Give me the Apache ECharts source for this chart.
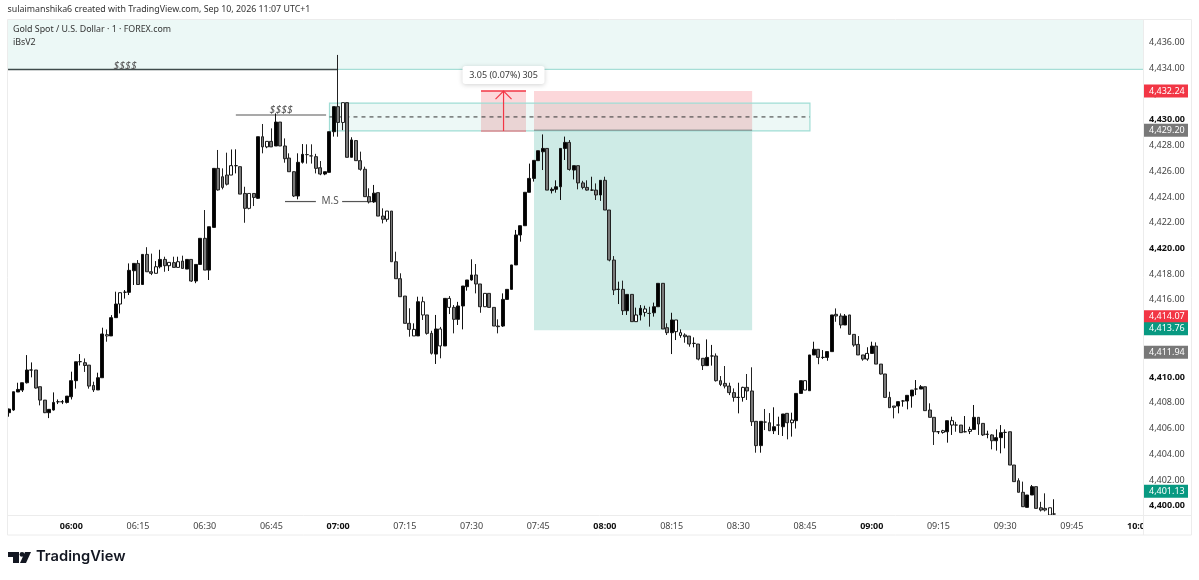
<!DOCTYPE html>
<html>
<head>
<meta charset="utf-8">
<title>Gold Spot / U.S. Dollar</title>
<script src="https://cdn.jsdelivr.net/npm/echarts@6/dist/echarts.min.js"></script>
<style>
  html, body { margin: 0; padding: 0; background: #fff; }
  #chart { width: 1199px; height: 580px; }
</style>
</head>
<body>
<div id="chart"></div>
<script>
// one candle per minute, counted from 06:00 (first candle is 05:46)
const firstMinute = -14

const opens = [
  4407.23,4407.44,4408.84,4408.99,4409.56,4410.55,4410.55,4409.25,4408.21,4407.23,
  4407.44,4408.08,4408.08,4408.03,4408.47,4409.72,4411.20,4411.12,4410.93,4409.35,
  4409.00,4409.95,4413.30,4413.20,4414.62,4415.68,4416.60,4416.59,4418.27,4418.84,
  4417.20,4419.54,4418.19,4418.07,4418.58,4419.15,4418.66,4418.90,4418.53,4419.02,
  4418.40,4419.15,4417.47,4418.76,4420.79,4418.32,4421.64,4426.23,4425.58,4425.71,
  4425.71,4426.44,4426.36,4424.28,4424.28,4424.28,4423.90,4428.69,4427.90,4428.33,
  4427.97,4429.83,4427.97,4427.03,4425.97,4424.08,4426.70,4427.30,4427.20,4427.14,
  4426.28,4425.79,4425.92,4429.08,4431.03,4431.34,4431.34,4427.09,4428.39,4426.83,
  4426.16,4424.03,4423.62,4424.34,4422.52,4422.27,4422.91,4418.97,4417.65,4416.30,
  4414.18,4413.20,4413.20,4415.86,4414.83,4413.40,4411.79,4413.74,4412.42,4416.12,
  4415.42,4414.49,4415.53,4417.03,4417.55,4417.94,4417.24,4415.47,4416.51,4415.42,
  4413.97,4413.97,4416.04,4416.82,4418.72,4421.05,4421.77,4424.37,4425.45,4426.83,
  4427.52,4427.78,4424.50,4424.60,4424.80,4427.78,4428.25,4426.10,4426.44,4425.10,
  4424.75,4424.54,4424.54,4424.16,4425.30,4422.99,4419.10,4416.82,4416.82,4415.16,
  4416.43,4414.31,4414.83,4415.03,4414.95,4415.00,4415.47,4417.29,4413.84,4413.45,
  4413.53,4413.24,4413.27,4413.19,4412.62,4412.57,4411.46,4410.89,4411.64,4411.64,
  4409.72,4409.51,4409.30,4408.79,4408.42,4408.42,4409.20,4408.92,4406.56,4404.67,
  4406.50,4406.45,4405.83,4406.27,4406.14,4407.18,4406.45,4406.61,4408.73,4408.99,
  4408.94,4411.72,4412.16,4411.53,4411.53,4411.98,4414.88,4414.75,4414.05,4414.83,
  4413.32,4412.54,4411.72,4411.40,4411.84,4412.41,4411.01,4410.24,4408.42,4407.75,
  4407.75,4408.14,4408.14,4408.53,4409.07,4409.07,4409.25,4407.44,4406.87,4405.75,
  4405.70,4405.75,4406.27,4406.27,4406.27,4405.75,4405.78,4405.93,4406.87,4406.40,
  4405.55,4405.50,4405.05,4405.29,4405.70,4405.75,4403.16,4401.94,4401.04,4399.87,
  4400.83,4401.48,4399.84,4399.79,4399.84,4399.35
]
const closes = [
  4407.51,4408.86,4409.04,4409.56,4410.55,4410.55,4409.15,4408.21,4407.23,4407.49,
  4408.03,4408.08,4408.08,4408.52,4409.72,4411.19,4411.20,4410.90,4409.30,4409.00,
  4409.95,4413.35,4413.20,4414.62,4415.68,4416.56,4416.60,4418.30,4418.84,4417.20,
  4419.54,4418.19,4418.07,4418.58,4419.15,4418.66,4418.92,4418.53,4418.97,4418.45,
  4419.15,4417.47,4418.76,4420.79,4418.32,4421.69,4426.23,4424.55,4424.75,4425.00,
  4426.44,4426.44,4424.23,4423.12,4423.12,4423.97,4428.69,4427.90,4428.33,4427.90,
  4429.83,4427.97,4426.98,4425.97,4424.08,4426.70,4427.32,4427.30,4427.20,4426.23,
  4425.79,4425.97,4429.08,4431.03,4429.80,4429.80,4427.09,4428.44,4426.83,4426.16,
  4424.03,4423.62,4424.30,4422.52,4422.27,4422.91,4418.97,4417.65,4416.25,4414.18,
  4413.71,4413.71,4415.86,4414.83,4413.40,4411.85,4413.74,4412.42,4416.12,4415.42,
  4414.49,4415.53,4417.08,4417.55,4417.94,4417.24,4415.47,4416.51,4415.42,4413.97,
  4413.92,4416.04,4416.82,4418.72,4421.05,4421.77,4424.37,4425.45,4426.85,4427.60,
  4427.78,4424.54,4424.60,4424.80,4427.78,4428.25,4426.15,4426.44,4425.10,4424.75,
  4424.54,4424.54,4424.16,4425.30,4422.99,4419.10,4416.77,4416.82,4415.16,4416.43,
  4414.31,4414.83,4415.35,4415.30,4414.95,4415.47,4417.29,4413.74,4413.45,4414.44,
  4414.44,4413.45,4413.14,4412.57,4412.62,4411.40,4410.89,4411.53,4411.64,4409.72,
  4409.43,4409.30,4408.79,4408.42,4408.42,4409.20,4408.92,4406.53,4404.67,4406.56,
  4406.50,4405.83,4406.14,4406.27,4407.13,4406.45,4406.66,4408.73,4409.72,4409.72,
  4411.72,4412.16,4411.53,4411.53,4411.98,4414.83,4414.75,4414.05,4414.75,4413.32,
  4412.49,4411.72,4411.40,4411.84,4412.41,4411.01,4410.24,4408.42,4407.62,4407.65,
  4408.09,4408.14,4408.58,4408.99,4409.07,4409.25,4407.39,4406.87,4405.75,4405.75,
  4405.83,4406.61,4406.61,4406.27,4405.68,4405.75,4405.93,4406.87,4406.35,4405.50,
  4405.55,4405.05,4405.29,4405.68,4405.70,4403.16,4401.87,4401.04,4399.92,4400.83,
  4401.48,4399.79,4399.66,4399.66,4399.27,4399.35
]
const lows = [
  4406.92,4407.38,4408.84,4408.84,4409.50,4409.98,4409.10,4407.80,4407.20,4406.81,
  4407.40,4407.90,4407.90,4407.95,4408.26,4409.10,4410.90,4410.40,4409.10,4408.84,
  4409.00,4409.95,4412.75,4413.20,4414.62,4414.95,4416.10,4416.38,4417.16,4417.20,
  4417.20,4418.19,4417.93,4418.07,4418.45,4418.19,4418.25,4418.53,4418.53,4418.45,
  4418.40,4417.40,4417.30,4418.76,4418.32,4417.55,4421.64,4424.50,4424.60,4424.90,
  4425.71,4425.84,4424.23,4422.00,4423.04,4423.30,4423.85,4427.40,4427.80,4427.90,
  4427.97,4427.97,4426.67,4425.97,4424.00,4423.82,4426.60,4426.60,4426.60,4425.84,
  4425.70,4425.70,4425.92,4428.70,4428.69,4429.20,4427.09,4427.09,4426.83,4426.05,
  4424.03,4423.50,4423.55,4422.52,4421.95,4422.08,4418.97,4417.65,4416.25,4414.18,
  4413.14,4413.20,4413.20,4414.44,4413.30,4411.75,4411.02,4411.46,4412.42,4414.90,
  4413.40,4414.05,4413.71,4416.72,4417.50,4416.51,4415.00,4415.47,4415.42,4413.97,
  4413.40,4413.90,4416.04,4416.82,4418.72,4420.53,4421.77,4424.37,4425.20,4426.83,
  4426.10,4424.54,4424.28,4424.34,4423.77,4426.88,4426.05,4425.37,4424.60,4424.60,
  4424.50,4424.48,4423.77,4423.70,4422.99,4419.00,4416.38,4415.68,4414.83,4414.83,
  4414.31,4414.31,4414.40,4414.70,4413.92,4414.70,4415.47,4413.74,4413.27,4411.79,
  4412.88,4413.06,4412.67,4412.36,4412.31,4411.30,4410.55,4410.89,4410.89,4409.65,
  4409.30,4409.12,4408.60,4408.09,4407.18,4408.09,4408.22,4406.20,4404.12,4404.12,
  4405.88,4405.80,4405.57,4405.50,4405.42,4405.16,4405.37,4406.00,4408.73,4408.99,
  4408.94,4411.72,4411.00,4411.40,4411.27,4411.98,4414.30,4413.79,4414.05,4413.32,
  4412.36,4411.72,4411.27,4411.27,4411.84,4411.01,4410.20,4408.42,4407.62,4406.79,
  4407.18,4407.70,4407.49,4407.62,4408.60,4409.07,4407.39,4406.87,4404.72,4405.57,
  4405.60,4404.90,4405.50,4405.75,4405.68,4405.70,4405.57,4405.93,4405.50,4405.42,
  4405.24,4404.38,4404.28,4404.07,4404.46,4403.16,4401.87,4401.04,4399.90,4399.87,
  4400.83,4399.79,4399.55,4399.55,4399.27,4399.30
]
const highs = [
  4407.55,4408.86,4409.56,4409.56,4411.71,4411.14,4410.55,4409.25,4408.21,4407.49,
  4408.81,4408.26,4408.22,4408.52,4410.42,4411.19,4411.79,4411.45,4410.93,4409.64,
  4410.34,4413.84,4413.70,4414.82,4416.64,4416.56,4416.77,4418.84,4418.84,4419.10,
  4419.54,4420.10,4419.60,4419.02,4419.90,4419.36,4418.92,4419.36,4419.36,4419.44,
  4419.15,4419.15,4418.76,4420.79,4422.99,4421.69,4426.23,4427.66,4426.23,4427.45,
  4427.70,4427.71,4426.36,4424.80,4424.28,4424.28,4428.69,4429.68,4428.33,4429.34,
  4430.50,4429.83,4428.56,4427.40,4426.00,4427.40,4428.12,4428.10,4428.10,4427.36,
  4426.80,4425.97,4429.08,4431.03,4435.05,4431.34,4431.34,4428.65,4428.39,4427.53,
  4426.36,4424.68,4424.94,4424.34,4423.12,4422.91,4422.91,4419.75,4418.07,4416.30,
  4415.35,4414.18,4416.25,4416.25,4414.83,4413.60,4414.83,4413.90,4416.12,4416.30,
  4415.60,4415.85,4417.08,4417.55,4419.16,4418.79,4417.24,4416.51,4416.51,4415.42,
  4414.49,4416.51,4416.82,4418.72,4421.44,4421.77,4424.37,4426.60,4426.88,4427.60,
  4428.87,4427.78,4424.75,4425.30,4427.78,4428.70,4428.43,4426.44,4426.44,4425.26,
  4425.30,4425.58,4425.06,4425.30,4425.58,4422.99,4419.41,4417.42,4417.50,4416.43,
  4416.43,4415.40,4415.60,4415.55,4415.47,4415.79,4417.29,4417.29,4414.18,4415.00,
  4414.44,4413.71,4413.40,4413.19,4413.09,4412.57,4411.46,4412.93,4412.50,4411.84,
  4410.08,4410.86,4409.56,4409.12,4409.56,4409.25,4410.24,4410.76,4406.56,4406.56,
  4407.52,4407.20,4407.65,4406.92,4407.13,4407.18,4407.23,4408.73,4409.72,4409.72,
  4411.72,4412.75,4412.16,4412.10,4411.98,4414.83,4415.34,4414.95,4414.90,4414.83,
  4413.32,4413.19,4411.72,4412.32,4412.75,4412.70,4411.01,4410.24,4408.86,4407.75,
  4408.10,4408.22,4408.58,4408.99,4409.77,4409.38,4409.25,4407.96,4406.87,4405.80,
  4405.90,4406.61,4406.92,4406.52,4406.27,4406.97,4406.14,4407.83,4406.87,4406.40,
  4405.83,4405.55,4405.93,4406.27,4405.93,4405.75,4403.16,4402.13,4401.87,4400.83,
  4401.61,4401.48,4400.30,4400.96,4399.84,4400.50
]
// candles drawn white instead of black or grey
const hollowMinutes = [8,11,19,22,24,36,40,44,61,71,77,79,83,85,93,127,129,136,137,151,162,165,179,196,198,202,220]

const axisMinutes = [-15, 241]
const axisPrices = [4398, 4438]
const hourPrices = 10

// [price, text colour key]
const priceBadges = [
  [4432.24, 'red'],
  [4429.20, 'grey'],
  [4414.07, 'red'],
  [4413.76, 'teal'],
  [4411.94, 'grey'],
  [4401.13, 'teal']
]
const badgeColors = { red: '#f23645', teal: '#089981', grey: '#787878' }

// drawings on the chart: minutes and prices
const plotStart = -14.23
const liquidityZone = [plotStart, 241, 4437.77, 4433.92]
const swingLine = [plotStart, 60, 4433.92]
const upperSwing = [37, 57.3, 4430.38]
const orderBlock = [58.06, 166.1, 4431.31, 4429.14]
const orderBlockMid = 4430.23
const positionRange = [104.05, 153.1]
const positionPrices = [4432.24, 4429.2, 4413.65]
const measureRange = [92.13, 102.25, 4432.24, 4429.14]
const measureArrow = 97.2
const measureLabel = [97.2, 4433.49, '3.05 (0.07%) 305']
const structureLines = [[48.05, 55, 4423.65], [60.9, 67.6, 4423.65]]
const chartTexts = [
  [12.1, 4434.2, '$$$$'],
  [47.2, 4430.77, '$$$$'],
  [58.2, 4423.65, 'M.S']
]

const font = '"Noto Sans", sans-serif'
const pad = n => String(n).padStart(2, '0')
const minuteLabel = m => pad(6 + Math.floor(m / 60)) + ':' + pad(((m % 60) + 60) % 60)
const priceLabel = p => p.toLocaleString('en-US', { minimumFractionDigits: 2, maximumFractionDigits: 2 })

const candles = opens.map((o, i) => {
  const minute = firstMinute + i
  const item = { value: [minute, o, closes[i], lows[i], highs[i]] }
  if (hollowMinutes.includes(minute)) {
    item.itemStyle = { color: '#fff', color0: '#fff' }
  }
  return item
})

// zones and lines that sit behind the candles
function renderBehind(params, api) {
  const pt = (m, p) => api.coord([m, p])
  const rect = (z, fill, stroke) => {
    const a = pt(z[0], z[2])
    const b = pt(z[1], z[3])
    return {
      type: 'rect',
      shape: { x: a[0], y: a[1], width: b[0] - a[0], height: b[1] - a[1] },
      style: { fill, stroke: stroke || null, lineWidth: 1.2 }
    }
  }
  const line = (x0, x1, p, stroke, lineWidth, lineDash) => {
    const a = pt(x0, p)
    const b = pt(x1, p)
    return {
      type: 'line',
      shape: { x1: a[0], y1: a[1], x2: b[0], y2: b[1] },
      style: { stroke, lineWidth, lineDash: lineDash || null }
    }
  }
  const children = [
    rect(liquidityZone, 'rgba(80,190,170,0.11)'),
    line(60, 241, liquidityZone[3], '#a6ded6', 1.2),
    line(swingLine[0], swingLine[1], swingLine[2], '#3f4b4b', 1.4),
    line(upperSwing[0], upperSwing[1], upperSwing[2], '#555', 1.2),
    rect([positionRange[0], positionRange[1], positionPrices[0], positionPrices[1]], 'rgba(242,54,69,0.2)'),
    rect([positionRange[0], positionRange[1], positionPrices[1], positionPrices[2]], 'rgba(8,153,129,0.2)'),
    rect(measureRange, 'rgba(242,54,69,0.2)'),
    rect(orderBlock, 'rgba(80,190,170,0.1)', '#a0ddd5'),
    line(positionRange[0], positionRange[1], positionPrices[1], '#7b8584', 1),
    line(orderBlock[0], orderBlock[1], orderBlockMid, '#333', 1, [4, 4])
  ]
  structureLines.forEach(l => children.push(line(l[0], l[1], l[2], '#555', 1.2)))
  return { type: 'group', children }
}

// tool label, arrow, small texts and the price badges, above the candles
function renderAbove(params, api) {
  const pt = (m, p) => api.coord([m, p])
  const children = []
  const mr = measureRange
  const top = pt(mr[0], mr[2])
  const topEnd = pt(mr[1], mr[2])
  const bottom = pt(mr[0], mr[3])
  const bottomEnd = pt(mr[1], mr[3])
  children.push({ type: 'line', shape: { x1: top[0], y1: top[1], x2: topEnd[0], y2: topEnd[1] }, style: { stroke: '#f23645', lineWidth: 1.5 } })
  children.push({ type: 'line', shape: { x1: bottom[0], y1: bottom[1], x2: bottomEnd[0], y2: bottomEnd[1] }, style: { stroke: '#e08a90', lineWidth: 1.5 } })
  const tip = pt(measureArrow, mr[2])
  const tail = pt(measureArrow, mr[3])
  children.push({ type: 'polyline', shape: { points: [tail, tip] }, style: { stroke: '#f23645', lineWidth: 1.2, fill: null } })
  children.push({ type: 'polyline', shape: { points: [[tip[0] - 8, tip[1] + 8], tip, [tip[0] + 8, tip[1] + 8]] }, style: { stroke: '#f23645', lineWidth: 1.2, fill: null } })

  const lab = pt(measureLabel[0], measureLabel[1])
  children.push({
    type: 'rect',
    shape: { x: lab[0] - 41, y: lab[1] - 9, width: 82, height: 18, r: 3 },
    style: { fill: '#fff', shadowBlur: 5, shadowColor: 'rgba(0,0,0,0.18)', shadowOffsetY: 1 }
  })
  children.push({
    type: 'text',
    style: { x: lab[0], y: lab[1], text: measureLabel[2], fill: '#3a3a3a', font: '9px ' + font, align: 'center', verticalAlign: 'middle' }
  })

  chartTexts.forEach(t => {
    const p = pt(t[0], t[1])
    children.push({
      type: 'text',
      style: { x: p[0], y: p[1], text: t[2], fill: '#555', font: (t[2] === 'M.S' ? '10px ' : 'italic 10.5px ') + font, align: 'center', verticalAlign: 'middle' }
    })
  })

  priceBadges.forEach(b => {
    const p = pt(axisMinutes[1], b[0])
    // TradingView pushes the red badge up so it clears the teal one below it
    const y = b[0] === 4414.07 ? p[1] - 8 : p[1]
    children.push({
      type: 'rect',
      shape: { x: p[0] + 0.5, y: y - 6.5, width: 44.5, height: 13 },
      style: { fill: badgeColors[b[1]] }
    })
    children.push({
      type: 'text',
      style: { x: p[0] + 6, y, text: priceLabel(b[0]), fill: '#fff', font: '9px ' + font, align: 'left', verticalAlign: 'middle' }
    })
  })
  return { type: 'group', children }
}

const chart = echarts.init(document.getElementById('chart'))
chart.setOption({
  animation: false,
  backgroundColor: '#fff',
  textStyle: { fontFamily: font },
  grid: { left: 4.6, width: 1138.4, top: 17, height: 514.4 },
  xAxis: {
    type: 'value',
    min: axisMinutes[0],
    max: axisMinutes[1],
    interval: 15,
    splitLine: { show: false },
    axisLine: { show: false },
    axisTick: { show: false },
    axisLabel: {
      inside: true,
      margin: 0,
      showMinLabel: false,
      showMaxLabel: false,
      color: '#444',
      fontSize: 9,
      fontFamily: font,
      hideOverlap: false,
      formatter: v => {
        if (v < 0 || v > 240) return ''
        const s = minuteLabel(v)
        return v % 60 === 0 ? '{hour|' + s + '}' : s
      },
      rich: { hour: { fontWeight: 'bold', color: '#111', fontSize: 9, fontFamily: font } }
    }
  },
  yAxis: {
    type: 'value',
    position: 'right',
    min: axisPrices[0],
    max: axisPrices[1],
    interval: 2,
    splitLine: { show: false },
    axisLine: { show: false },
    axisTick: { show: false },
    axisLabel: {
      margin: 6,
      color: '#444',
      fontSize: 9,
      fontFamily: font,
      showMinLabel: false,
      showMaxLabel: false,
      formatter: v => {
        if (v === axisPrices[0] || v === axisPrices[1]) return ''
        const s = priceLabel(v)
        return v % hourPrices === 0 ? '{major|' + s + '}' : s
      },
      rich: { major: { fontWeight: 'bold', color: '#111', fontSize: 9, fontFamily: font } }
    }
  },
  series: [
    {
      type: 'custom',
      z: 1,
      silent: true,
      clip: false,
      data: [[0, axisPrices[0]]],
      renderItem: renderBehind
    },
    {
      type: 'candlestick',
      z: 2,
      barWidth: 3.4,
      encode: { x: 0, y: [1, 2, 3, 4] },
      itemStyle: {
        color: '#000',
        color0: '#7a7a7a',
        borderColor: '#111',
        borderColor0: '#222',
        borderWidth: 1
      },
      data: candles
    },
    {
      type: 'custom',
      z: 5,
      silent: true,
      clip: false,
      data: [[0, axisPrices[0]]],
      renderItem: renderAbove
    }
  ],
  graphic: [
    // the 10:00 label is cut by the price scale
    { type: 'rect', z: 10, shape: { x: 1144, y: 517, width: 12, height: 17 }, style: { fill: '#fff' } },
    { type: 'rect', z: 11, shape: { x: 7.5, y: 19.5, width: 1184, height: 515.5 }, style: { fill: 'transparent', stroke: '#ececec', lineWidth: 1 } },
    { type: 'line', z: 11, shape: { x1: 1143.5, y1: 20, x2: 1143.5, y2: 535 }, style: { stroke: '#ececec', lineWidth: 1 } },
    { type: 'line', z: 11, shape: { x1: 8, y1: 515.5, x2: 1191, y2: 515.5 }, style: { stroke: '#ececec', lineWidth: 1 } },
    { type: 'text', z: 12, left: 7.5, top: 5, style: { text: 'sulaimanshika6 created with TradingView.com, Sep 10, 2026 11:07 UTC+1', fill: '#333', font: '8.85px ' + font } },
    { type: 'text', z: 12, left: 13, top: 25, style: { text: 'Gold Spot / U.S. Dollar · 1 · FOREX.com', fill: '#333', font: '8.85px ' + font } },
    { type: 'text', z: 12, left: 13, top: 38, style: { text: 'iBsV2', fill: '#333', font: '8.85px ' + font } },
    // logo
    { type: 'polygon', z: 12, shape: { points: [[8, 552], [19, 552], [19, 563], [13, 563], [13, 557], [8, 557]] }, style: { fill: '#131722' } },
    { type: 'polygon', z: 12, shape: { points: [[25, 552], [31, 552], [26, 563], [20, 563]] }, style: { fill: '#131722' } },
    { type: 'circle', z: 12, shape: { cx: 22, cy: 554.4, r: 2.4 }, style: { fill: '#131722' } },
    { type: 'text', z: 12, left: 36, top: 549, style: { text: 'TradingView', fill: '#131722', font: '600 14.7px Inter, sans-serif' } }
  ]
})
</script>
</body>
</html>
